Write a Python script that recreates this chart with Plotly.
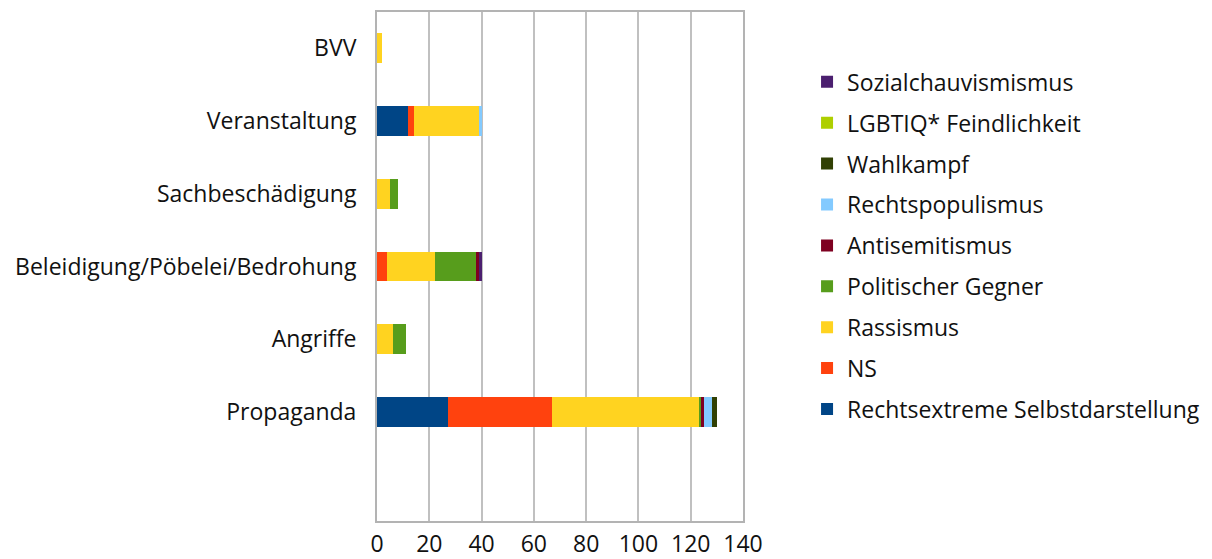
import plotly.graph_objects as go

categories = ["Propaganda", "Angriffe", "Beleidigung/Pöbelei/Bedrohung",
              "Sachbeschädigung", "Veranstaltung", "BVV"]

series_names = ["Rechtsextreme Selbstdarstellung", "NS", "Rassismus",
                "Politischer Gegner", "Antisemitismus", "Rechtspopulismus",
                "Wahlkampf", "LGBTIQ* Feindlichkeit", "Sozialchauvismismus"]

rechtsextreme = [27, 0, 0, 0, 12, 0]
ns = [40, 0, 4, 0, 2, 0]
rassismus = [56, 6, 18, 5, 25, 2]
politischer_gegner = [1, 5, 16, 3, 0, 0]
antisemitismus = [1, 0, 1, 0, 0, 0]
rechtspopulismus = [3, 0, 0, 0, 1, 0]
wahlkampf = [2, 0, 0, 0, 0, 0]
lgbtiq = [0, 0, 0, 0, 0, 0]
sozialchauvinismus = [0, 0, 1, 0, 0, 0]

values = [rechtsextreme, ns, rassismus, politischer_gegner, antisemitismus,
          rechtspopulismus, wahlkampf, lgbtiq, sozialchauvinismus]

colors = ["#004586", "#ff420e", "#ffd320", "#579d1c", "#7e0021",
          "#83caff", "#314004", "#aecf00", "#4b1f6f"]

x_ticks = [0, 20, 40, 60, 80, 100, 120, 140]

font_family = "'Open Sans', Lato, sans-serif"
fs = 23

fig = go.Figure()
n = len(series_names)
for i, (name, vals, col) in enumerate(zip(series_names, values, colors)):
    fig.add_trace(go.Bar(
        y=categories, x=vals, name=name, orientation="h",
        legendgroup=name, legendrank=1000 + (n - i),
        marker=dict(color=col, line=dict(width=0)),
    ))

fig.update_layout(
    barmode="stack",
    bargap=0.59,
    width=1204, height=551,
    margin=dict(l=369, r=469, t=4, b=38, pad=0, autoexpand=False),
    paper_bgcolor="white", plot_bgcolor="white",
    font=dict(family=font_family, size=fs, color="#111111"),
    showlegend=True,
    legend=dict(
        traceorder="grouped",
        x=1.175, xanchor="left", y=0.905, yanchor="top",
        font=dict(size=fs, family=font_family),
        itemsizing="constant",
        tracegroupgap=8,
    ),
    xaxis=dict(
        range=[0, 140], tickvals=x_ticks, automargin=False,
        showgrid=True, gridcolor="#c0c0c0", gridwidth=1.5,
        showline=True, linecolor="#b3b3b3", linewidth=2, mirror=True,
        zeroline=False, ticks="", ticklabelstandoff=1,
        tickfont=dict(size=fs),
    ),
    yaxis=dict(
        type="category", categoryorder="array", categoryarray=categories,
        range=[-1.5, 5.5], automargin=False,
        showgrid=False,
        showline=True, linecolor="#b3b3b3", linewidth=2, mirror=True,
        ticks="", ticklabelstandoff=14,
        tickfont=dict(size=fs),
    ),
)

fig.write_html("out.html")
